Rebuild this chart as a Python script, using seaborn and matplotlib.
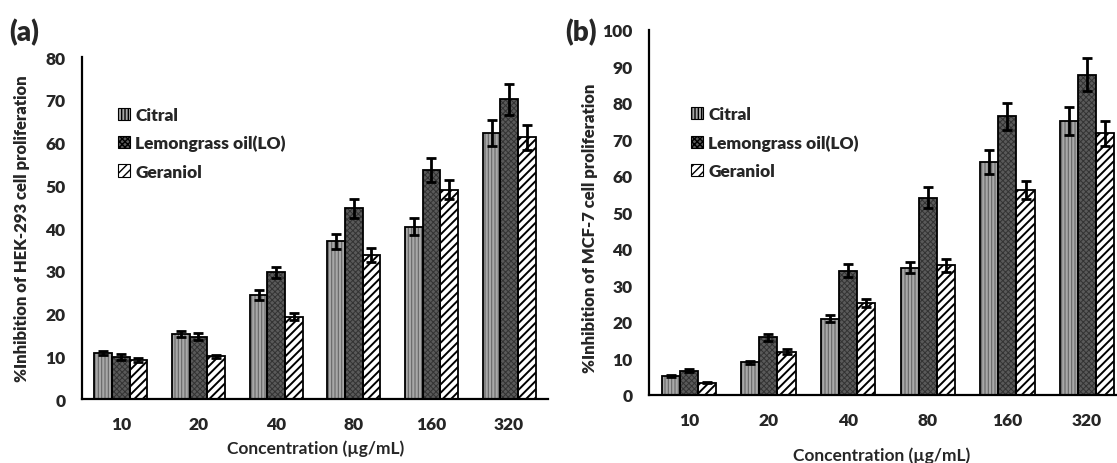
import numpy as np
import pandas as pd
import matplotlib
matplotlib.use("Agg")
import matplotlib.pyplot as plt
from matplotlib.patches import Rectangle, Patch
import seaborn as sns

# Datos
concentraciones = ["10", "20", "40", "80", "160", "320"]
compuestos = ["Citral", "Lemongrass oil(LO)", "Geraniol"]

hek_citral = [10.7, 15.2, 24.4, 36.9, 40.3, 62.2]
hek_lo = [9.8, 14.6, 29.6, 44.6, 53.6, 70.1]
hek_ger = [9.2, 10.0, 19.3, 33.7, 49.0, 61.2]
hek_citral_err = [0.5, 0.8, 1.2, 1.8, 2.0, 3.0]
hek_lo_err = [0.7, 0.8, 1.4, 2.3, 2.8, 3.7]
hek_ger_err = [0.5, 0.4, 0.9, 1.6, 2.2, 2.9]

mcf_citral = [5.3, 8.9, 20.9, 34.9, 63.8, 75.1]
mcf_lo = [6.6, 15.8, 34.0, 54.1, 76.3, 87.8]
mcf_ger = [3.4, 11.9, 25.2, 35.5, 56.1, 71.7]
mcf_citral_err = [0.3, 0.3, 1.0, 1.6, 3.2, 3.9]
mcf_lo_err = [0.4, 1.0, 1.8, 2.9, 3.6, 4.5]
mcf_ger_err = [0.1, 0.6, 1.1, 1.8, 2.5, 3.4]

# estilo de las barras: relleno, trama, color de trama, grosor de trama
estilos = {
    "Citral": ("#a8a8a8", "|||||", "#666666", 0.8),
    "Lemongrass oil(LO)": ("#5a5a5a", "xxxxxx", "#333333", 0.7),
    "Geraniol": ("white", "////", "black", 1.4),
}
PESO = "heavy"

sns.set_style("white")
plt.rcParams["font.family"] = ["Lato", "DejaVu Sans"]
plt.rcParams["hatch.linewidth"] = 1.0


def tabla(vals, errs):
    filas = []
    for comp, v, e in zip(compuestos, vals, errs):
        for c, y, s in zip(concentraciones, v, e):
            filas.append({"Concentracion": c, "Compuesto": comp, "Valor": y, "Error": s})
    return pd.DataFrame(filas)


def panel(ax, df, ymax, ylabel, ylab_pos, xlab_pos, leg_pos):
    sns.barplot(data=df, x="Concentracion", y="Valor", hue="Compuesto",
                order=concentraciones, hue_order=compuestos, width=0.68,
                errorbar=None, legend=False, ax=ax)
    for cont, comp in zip(ax.containers, compuestos):
        cara, trama, ctrama, grosor = estilos[comp]
        sub = df[df["Compuesto"] == comp].set_index("Concentracion").loc[concentraciones]
        xs = []
        for p in cont.patches:
            p.set_facecolor(cara)
            p.set_hatch(trama)
            p.set_edgecolor(ctrama)
            p.set_linewidth(0)
            if hasattr(p, "set_hatch_linewidth"):
                p.set_hatch_linewidth(grosor)
            ax.add_patch(Rectangle(p.get_xy(), p.get_width(), p.get_height(),
                                   fill=False, edgecolor="black", linewidth=1.3, zorder=3))
            xs.append(p.get_x() + p.get_width() / 2)
        ax.errorbar(xs, sub["Valor"], yerr=sub["Error"], fmt="none", ecolor="black",
                    elinewidth=2, capsize=3.5, capthick=2, zorder=4)

    ax.set_ylim(0, ymax)
    ax.set_xlim(-0.5, 5.5)
    ax.set_yticks(np.arange(0, ymax + 1, 10))
    ax.set_xticks(np.arange(0.5, 5.6, 1), minor=True)
    ax.tick_params(axis="y", direction="in", length=5, width=1.5, pad=12, labelsize=12.5)
    ax.tick_params(axis="x", which="major", length=0, pad=12.5, labelsize=12.5)
    ax.tick_params(axis="x", which="minor", direction="in", length=5, width=1.5)
    for lab in ax.get_xticklabels() + ax.get_yticklabels():
        lab.set_fontweight(PESO)
    sns.despine(ax=ax)
    for s in ["left", "bottom"]:
        ax.spines[s].set_linewidth(1.6)
        ax.spines[s].set_color("black")

    ax.set_ylabel(ylabel, fontsize=12, fontweight=PESO)
    ax.set_xlabel("Concentration (\u00b5g/mL)", fontsize=12.5, fontweight="bold")
    ax.yaxis.set_label_coords(*ylab_pos)
    ax.xaxis.set_label_coords(*xlab_pos)

    handles = [Patch(facecolor=estilos[c][0], hatch=estilos[c][1], edgecolor="black",
                     linewidth=0.8) for c in compuestos]
    ax.legend(handles, compuestos, loc="upper left", bbox_to_anchor=leg_pos, frameon=False,
              handlelength=0.7, handleheight=0.7, handletextpad=0.3, labelspacing=0.7,
              prop={"size": 12.5, "weight": PESO}, borderaxespad=0)


fig = plt.figure(figsize=(11.17, 4.64), dpi=100)
ax1 = fig.add_axes([0.0734, 0.1379, 0.4172, 0.737])
ax2 = fig.add_axes([0.581, 0.1466, 0.4279, 0.7866])

panel(ax1, tabla([hek_citral, hek_lo, hek_ger], [hek_citral_err, hek_lo_err, hek_ger_err]),
      80, "%Inhibition of HEK-293 cell proliferation", (-0.112, 0.5), (0.502, -0.118),
      (0.062, 0.875))
panel(ax2, tabla([mcf_citral, mcf_lo, mcf_ger], [mcf_citral_err, mcf_lo_err, mcf_ger_err]),
      100, "%Inhibition of MCF-7 cell proliferation", (-0.107, 0.46), (0.487, -0.14),
      (0.073, 0.81))

fig.text(0.008, 0.93, "(a)", fontsize=20, fontweight=PESO, va="center")
fig.text(0.506, 0.93, "(b)", fontsize=20, fontweight=PESO, va="center")

fig.savefig("out.png", dpi=100)
